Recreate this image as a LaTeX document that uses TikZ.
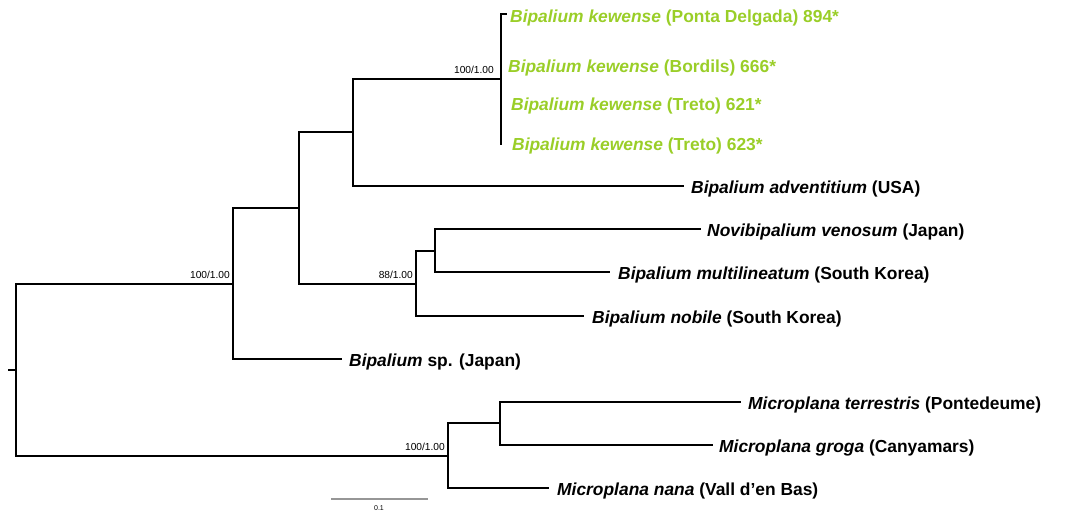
\documentclass[tikz,border=0pt]{standalone}
\usepackage{fontspec}
\setmainfont{Liberation Sans}
\definecolor{kew}{RGB}{154,206,40}
\definecolor{bargray}{RGB}{150,150,150}
\tikzset{
  br/.style={line width=2.7pt, line join=miter, line cap=rect},
  tip/.style={anchor=west, inner sep=0pt, yshift=-2.5pt, font=\fontsize{17.4}{19}\selectfont\bfseries},
  supval/.style={anchor=south east, inner sep=0pt, font=\fontsize{10.2}{12}\selectfont},
}
\newcommand{\taxon}[1]{\textit{#1}}
\begin{document}
\begin{tikzpicture}[x=1pt,y=-1pt]
\useasboundingbox (0,0) rectangle (1069,512);
% internal nodes
\coordinate (rs) at (9,370);
\coordinate (r) at (16,370);
\coordinate (a) at (233,284);
\coordinate (m) at (448,456);
\coordinate (b) at (299,208);
\coordinate (c) at (353,132);
\coordinate (d) at (416,284);
\coordinate (k) at (501,79);
\coordinate (e) at (435,251);
\coordinate (f) at (500,423);
% tips
\coordinate (tsp) at (341,359);
\coordinate (tk1) at (506,14);
\coordinate (tk4) at (501,144);
\coordinate (tadv) at (683,186);
\coordinate (tnob) at (583,316);
\coordinate (tnov) at (700,229);
\coordinate (tmul) at (609,272);
\coordinate (tnan) at (548,488);
\coordinate (tter) at (740,402);
\coordinate (tgro) at (712,445);
% branches
\draw[br] (rs) -- (r);
\draw[br] (r) |- (a);
\draw[br] (r) |- (m);
\draw[br] (a) |- (b);
\draw[br] (a) |- (tsp);
\draw[br] (b) |- (c);
\draw[br] (b) |- (d);
\draw[br] (c) |- (k);
\draw[br] (c) |- (tadv);
\draw[br] (k) |- (tk1);
\draw[br] (k) |- (tk4);
\draw[br] (d) |- (e);
\draw[br] (d) |- (tnob);
\draw[br] (e) |- (tnov);
\draw[br] (e) |- (tmul);
\draw[br] (m) |- (f);
\draw[br] (m) |- (tnan);
\draw[br] (f) |- (tter);
\draw[br] (f) |- (tgro);
% support values
\node[supval] (sa) at (230,279) {100/1.00};
\node[supval] (sd) at (413,279) {88/1.00};
\node[supval] (sk) at (494,74) {100/1.00};
\node[supval] (sm) at (445,451) {100/1.00};
% tip labels
\node[tip, text=kew] (l1) at (510,16) {\taxon{Bipalium kewense} (Ponta Delgada) 894*};
\node[tip, text=kew] (l2) at (508,65) {\taxon{Bipalium kewense} (Bordils) 666*};
\node[tip, text=kew] (l3) at (511,103) {\taxon{Bipalium kewense} (Treto) 621*};
\node[tip, text=kew] (l4) at (512,143) {\taxon{Bipalium kewense} (Treto) 623*};
\node[tip] (l5) at (691,186) {\taxon{Bipalium adventitium} (USA)};
\node[tip] (l6) at (707,229) {\taxon{Novibipalium venosum} (Japan)};
\node[tip] (l7) at (618,272) {\taxon{Bipalium multilineatum} (South Korea)};
\node[tip] (l8) at (592,316) {\taxon{Bipalium nobile} (South Korea)};
\node[tip] (l9) at (349,359) {\taxon{Bipalium} sp. (Japan)};
\node[tip] (l10) at (748,402) {\taxon{Microplana terrestris} (Pontedeume)};
\node[tip] (l11) at (719,445) {\taxon{Microplana groga} (Canyamars)};
\node[tip] (l12) at (557,488) {\taxon{Microplana nana} (Vall d’en Bas)};
% scale bar
\coordinate (s1) at (331,499);
\coordinate (s2) at (428,499);
\draw[bargray, line width=1.5pt] (s1) -- (s2);
\node[font=\fontsize{7}{8}\selectfont, inner sep=0pt] (sl) at (379,508) {0.1};
\end{tikzpicture}
\end{document}
